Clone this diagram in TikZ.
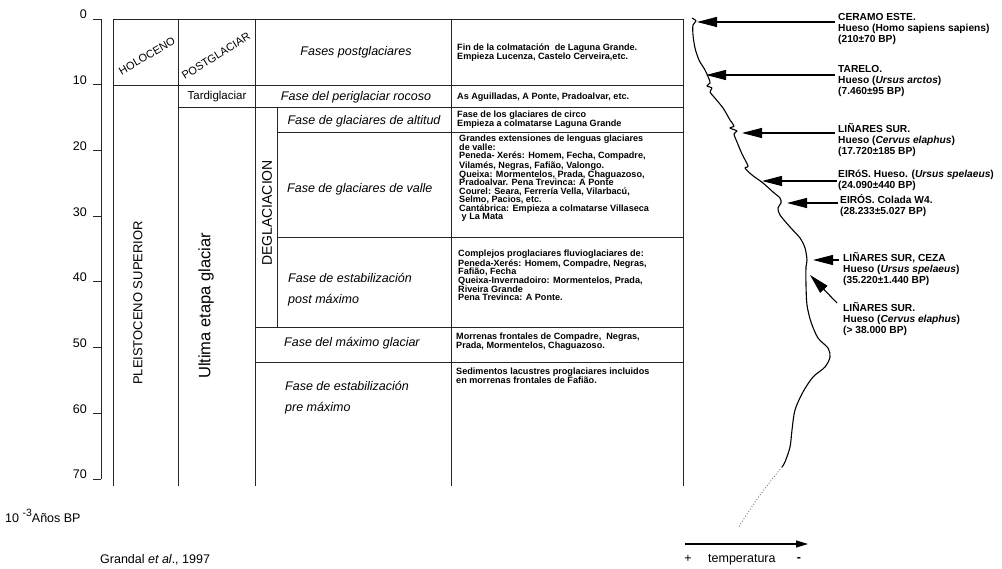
\documentclass[tikz,border=0pt]{standalone}
\usepackage{fontspec}
\setmainfont{Liberation Sans}
\usetikzlibrary{arrows.meta}

\begin{document}
\begin{tikzpicture}[x=1pt, y=-1pt,
    rule/.style={black!85, line width=0.8pt},
    num/.style={font=\fontsize{12.5}{15}\selectfont, anchor=base east, inner sep=0pt},
    phase/.style={font=\fontsize{12.5}{15}\selectfont\itshape, inner sep=0pt},
    note/.style={font=\fontsize{9.1}{8.55}\selectfont\bfseries, align=left, anchor=north west, inner sep=0pt},
    site/.style={font=\fontsize{10.2}{11}\selectfont\bfseries, align=left, anchor=north west, inner sep=0pt},
    pointer/.style={-{Triangle[length=20pt,width=10pt]}, line width=1.1pt}]
  \useasboundingbox (0,0) rectangle (1002,569);

  % time axis (ka)
  \draw[rule] (101,19) -- (101,479);
  \foreach \k in {0,10,...,70}{
    \pgfmathsetmacro\ty{19+6.57*\k}
    \draw[rule] (93,\ty) -- (101,\ty);
    \node[num] (t\k) at (87,\ty) {\k};
  }
  \node[font=\fontsize{12.5}{15}\selectfont, anchor=base west, inner sep=0pt] (unit) at (5,522)
    {10 \raisebox{6pt}{\fontsize{10.5}{12}\selectfont -3}Años BP};

  % table frame
  \draw[rule] (113,19) -- (683,19);
  \foreach \cx in {113,178,255,451,683}
    \draw[rule] (\cx,19) -- (\cx,486);
  \draw[rule] (113,85) -- (683,85);
  \draw[rule] (178,107) -- (683,107);
  \draw[rule] (277,107) -- (277,327);
  \draw[rule] (277,132) -- (683,132);
  \draw[rule] (277,237) -- (683,237);
  \draw[rule] (255,327) -- (683,327);
  \draw[rule] (255,362) -- (683,362);

  % period columns
  \node[font=\fontsize{11}{13}\selectfont, rotate=30, inner sep=0pt] (holo) at (147,56) {HOLOCENO};
  \node[font=\fontsize{11}{13}\selectfont, rotate=32, inner sep=0pt] (postg) at (216,56) {POSTGLACIAR};
  \node[font=\fontsize{11.5}{14}\selectfont] (tardi) at (217,97) {Tardiglaciar};
  \node[font=\fontsize{13}{15}\selectfont, rotate=90] (pleisto) at (138,303) {PLEISTOCENO SUPERIOR};
  \node[font=\fontsize{16.5}{19}\selectfont, rotate=90] (ultima) at (206,306) {Ultima etapa glaciar};
  \node[font=\fontsize{14}{16}\selectfont, rotate=90] (degla) at (267,213) {DEGLACIACION};

  % phases
  \node[phase] (ph1) at (356,52) {Fases postglaciares};
  \node[phase] (ph2) at (356,97) {Fase del periglaciar rocoso};
  \node[phase] (ph3) at (364,121) {Fase de glaciares de altitud};
  \node[phase, anchor=west] (ph4) at (287,189) {Fase de glaciares de valle};
  \node[phase, anchor=west] (ph5) at (288,278) {Fase de estabilización};
  \node[phase, anchor=west] (ph5b) at (288,300) {post máximo};
  \node[phase, anchor=west] (ph6) at (284,343) {Fase del máximo glaciar};
  \node[phase, anchor=west] (ph7) at (285,386) {Fase de estabilización};
  \node[phase, anchor=west] (ph7b) at (285,408) {pre máximo};

  % descriptions
  \node[note] (d1) at (457,44) {Fin de la colmatación\ \ de Laguna Grande.\\
    Empieza Lucenza, Castelo Cerveira,etc.};
  \node[note] (d2) at (457,93) {As Aguilladas, A Ponte, Pradoalvar, etc.};
  \node[note] (d3) at (457,111) {Fase de los glaciares de circo\\
    Empieza a colmatarse Laguna Grande};
  \node[note] (d4) at (459,135) {Grandes extensiones de lenguas glaciares\\
    de valle:\\
    Peneda- Xerés: Homem, Fecha, Compadre,\\
    Vilamés, Negras, Fafião, Valongo.\\
    Queixa: Mormentelos, Prada, Chaguazoso,\\
    Pradoalvar. Pena Trevinca: A Ponte\\
    Courel: Seara, Ferrería Vella, Vilarbacú,\\
    Selmo, Pacios, etc.\\
    Cantábrica: Empieza a colmatarse Villaseca\\
    \ y La Mata};
  \node[note] (d5) at (458,250) {Complejos proglaciares fluvioglaciares de:\\
    Peneda-Xerés: Homem, Compadre, Negras,\\
    Fafião, Fecha\\
    Queixa-Invernadoiro: Mormentelos, Prada,\\
    Riveira Grande\\
    Pena Trevinca: A Ponte.};
  \node[note] (d6) at (456,333) {Morrenas frontales de Compadre,\ \ Negras,\\
    Prada, Mormentelos, Chaguazoso.};
  \node[note] (d7) at (456,368) {Sedimentos lacustres proglaciares incluidos\\
    en morrenas frontales de Fafião.};

  % temperature curve
  \draw[line width=1.1pt, line join=round] plot[smooth, tension=0.5] coordinates {
    (692,18) (696,21) (693,25) (693,35) (695,48) (699,60) (705,70) (709,79)
    (710,83) (707,86) (712,88) (710,92) (714,97) (723,108) (730,120) (734,126)
    (730,128) (737,131) (734,134) (737,142) (742,154) (748,166) (745,168)
    (752,175) (763,183) (773,192) (780,198) (781,203) (778,208) (780,215)
    (790,227) (800,238) (805,248) (807,260) (806,267) (806,285) (807,305)
    (811,322) (818,338) (828,348) (830,357) (825,367) (813,377) (803,392)
    (795,410) (792,430) (790,447) (785,462) (782,467)
  };
  \draw[black!55, line width=0.9pt, dotted] plot[smooth] coordinates {
    (782,467) (770,482) (755,502) (738,528)
  };

  % dated sites
  \node[site] (s1) at (838,13) {CERAMO ESTE.\\ Hueso (Homo sapiens sapiens)\\ (210±70 BP)};
  \node[site] (s2) at (838,65) {TARELO.\\ Hueso (\textit{Ursus arctos})\\ (7.460±95 BP)};
  \node[site] (s3) at (838,123) {LIÑARES SUR.\\ Hueso (\textit{Cervus elaphus})\\ (17.720±185 BP)};
  \node[site] (s4) at (838,170) {EIRóS. Hueso. (\textit{Ursus spelaeus})\\ (24.090±440 BP)};
  \node[site] (s5) at (840,194) {EIRÓS. Colada W4.\\ (28.233±5.027 BP)};
  \node[site] (s6) at (843,252) {LIÑARES SUR, CEZA\\ Hueso (\textit{Ursus spelaeus})\\ (35.220±1.440 BP)};
  \node[site] (s7) at (843,302) {LIÑARES SUR.\\ Hueso (\textit{Cervus elaphus})\\ (> 38.000 BP)};

  \coordinate (c1) at (697,22);
  \coordinate (c2) at (706,75);
  \coordinate (c3) at (742,133);
  \coordinate (c4) at (762,181);
  \coordinate (c5) at (787,203);
  \coordinate (c6) at (813,260);
  \coordinate (c7) at (810,275);
  \draw[pointer] (c1 -| s1.west) ++(-3,0) -- (c1);
  \draw[pointer] (c2 -| s2.west) ++(-3,0) -- (c2);
  \draw[pointer] (c3 -| s3.west) ++(-3,0) -- (c3);
  \draw[pointer] (c4 -| s4.west) ++(-1,0) -- (c4);
  \draw[pointer] (c5 -| s5.west) ++(-2,0) -- (c5);
  \draw[pointer] (c6 -| s6.west) ++(-4,0) -- (c6);
  \draw[pointer] (s7.north west) ++(-6,1) -- (c7);

  % temperature scale
  \coordinate (tl) at (685,544);
  \coordinate (tr) at (808,544);
  \draw[-{Triangle[length=12pt,width=7pt]}, line width=1.1pt] (tl) -- (tr);
  \node[font=\fontsize{12.5}{15}\selectfont, anchor=base, inner sep=0pt] (tplus) at (688,562) {+};
  \node[font=\fontsize{12.5}{15}\selectfont, anchor=base west, inner sep=0pt] (tlab) at (708,562) {temperatura};
  \node[font=\fontsize{12.5}{15}\selectfont\bfseries, anchor=base, inner sep=0pt] (tminus) at (799,561) {-};

  \node[font=\fontsize{12.5}{15}\selectfont, anchor=base west, inner sep=0pt] (src) at (100,563) {Grandal \textit{et al}., 1997};
\end{tikzpicture}
\end{document}
